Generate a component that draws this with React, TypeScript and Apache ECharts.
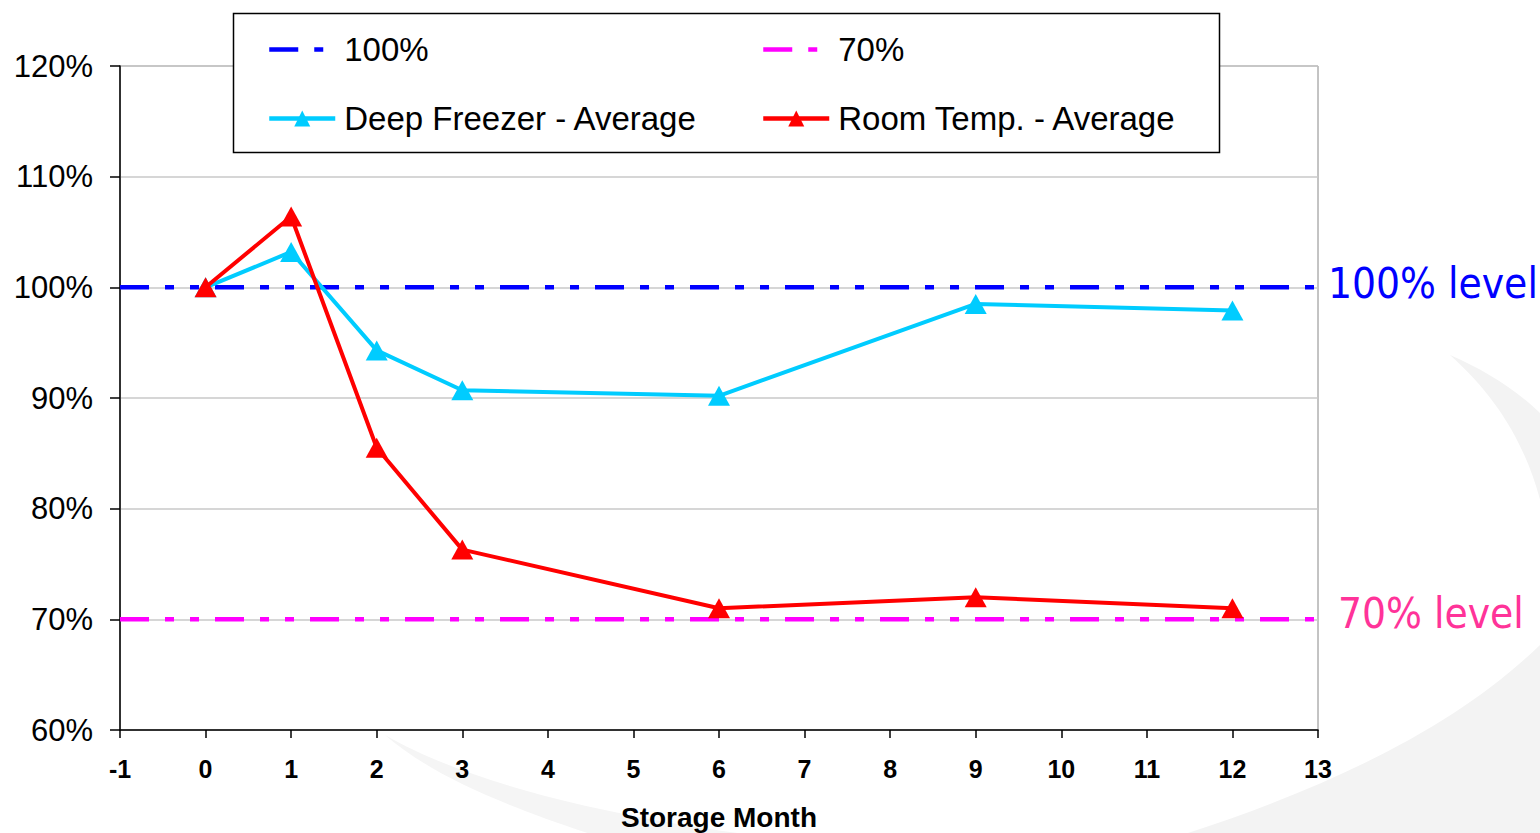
import React, { useEffect, useRef } from "react";
import * as echarts from "echarts";

// ---- data ----
const months = [0, 1, 2, 3, 6, 9, 12];
const freezerAvg = [100, 103.2, 94.3, 90.7, 90.2, 98.5, 97.9];
const roomAvg = [100, 106.4, 85.5, 76.3, 71.0, 72.0, 71.0];
const xRange = [-1, 13];
const level100 = [100, 100];
const level70 = [70, 70];
const yMin = 60;
const yMax = 120;
const yStep = 10;

const SWOOSH1 =
  "M1450,355 C1485,370 1520,392 1545,418 L1545,520 C1530,450 1500,400 1450,355 Z";
const SWOOSH3 =
  "M1545,640 C1460,725 1330,790 1150,845 L1545,845 Z";
const SWOOSH2 =
  "M385,735 C480,790 660,832 900,850 L640,850 C520,812 440,782 385,735 Z";

export default function App() {
  const ref = useRef<HTMLDivElement>(null);
  useEffect(() => {
    if (!ref.current) return;
    try {
      echarts.graphic.registerShape("swoosh1", echarts.graphic.extendPath(SWOOSH1, {}) as any);
      echarts.graphic.registerShape("swoosh2", echarts.graphic.extendPath(SWOOSH2, {}) as any);
      echarts.graphic.registerShape("swoosh3", echarts.graphic.extendPath(SWOOSH3, {}) as any);
    } catch (e) {}
    const chart = echarts.init(ref.current, null, { renderer: "svg" });
    const dash = [29, 16, 9, 16, 9, 16];
    const pairs = (xs: number[], ys: number[]) => xs.map((x, i) => [x, ys[i]]);
    const legendText = {
      fontFamily: "Liberation Sans, Arial, sans-serif",
      fontSize: 33,
      color: "#000",
      padding: [0, 0, 0, 4],
    };
    const option: any = {
      animation: false,
      backgroundColor: "#ffffff",
      grid: {
        left: 120,
        right: 222,
        top: 66,
        bottom: 103,
        outerBoundsMode: "none",
        containLabel: false,
        show: true,
        borderColor: "#888888",
        borderWidth: 1,
        backgroundColor: "#ffffff",
      },
      xAxis: {
        type: "value",
        min: xRange[0],
        max: xRange[1],
        interval: 1,
        name: "Storage Month",
        nameLocation: "middle",
        nameGap: 73,
        nameTextStyle: {
          fontFamily: "Liberation Sans, Arial, sans-serif",
          fontWeight: "bold",
          fontSize: 28,
          color: "#000",
        },
        axisLine: { show: true, onZero: false, lineStyle: { color: "#000", width: 1.5 } },
        axisTick: { show: true, inside: false, length: 8, lineStyle: { color: "#000", width: 1.5 } },
        axisLabel: {
          margin: 26,
          fontFamily: "Liberation Sans, Arial, sans-serif",
          fontWeight: "bold",
          fontSize: 25,
          color: "#000",
        },
        splitLine: { show: false },
      },
      yAxis: {
        type: "value",
        min: yMin,
        max: yMax,
        interval: yStep,
        axisLine: { show: true, onZero: false, lineStyle: { color: "#000", width: 1.5 } },
        axisTick: { show: true, inside: false, length: 10, lineStyle: { color: "#000", width: 1.5 } },
        axisLabel: {
          margin: 27,
          formatter: "{value}%",
          fontFamily: "Liberation Sans, Arial, sans-serif",
          fontSize: 31,
          color: "#000",
        },
        splitLine: { show: true, lineStyle: { color: "#c8c8c8", width: 1.5 } },
      },
      legend: [
        {
          orient: "vertical",
          left: 267,
          top: 33,
          padding: 0,
          itemGap: 36,
          itemWidth: 66,
          itemHeight: 20,
          z: 10,
          lineStyle: { width: 4.5 },
          data: [
            { name: "100%", itemStyle: { opacity: 0 } },
            { name: "Deep Freezer - Average" },
          ],
          textStyle: legendText,
        },
        {
          orient: "vertical",
          left: 761,
          top: 33,
          padding: 0,
          itemGap: 36,
          itemWidth: 66,
          itemHeight: 20,
          z: 10,
          lineStyle: { width: 4.5 },
          data: [
            { name: "70%", itemStyle: { opacity: 0 } },
            { name: "Room Temp. - Average" },
          ],
          textStyle: legendText,
        },
      ],
      graphic: [
        {
          type: "swoosh1",
          z: -10,
          silent: true,
          style: { fill: "#f3f3f3", stroke: "none" },
        },
        {
          type: "swoosh3",
          z: -10,
          silent: true,
          style: { fill: "#f3f3f3", stroke: "none" },
        },
        {
          type: "swoosh2",
          z: -10,
          silent: true,
          style: { fill: "#f5f5f5", stroke: "none" },
        },
        {
          type: "rect",
          z: 5,
          shape: { x: 233.5, y: 13.5, width: 986, height: 139 },
          style: { fill: "#ffffff", stroke: "#000000", lineWidth: 1.5 },
        },
        {
          type: "text",
          z: 5,
          left: 1328,
          top: 262,
          style: {
            text: "100% level",
            fill: "#0000ff",
            fontSize: 42,
            fontFamily: "DejaVu Sans Condensed, DejaVu Sans, sans-serif",
          },
        },
        {
          type: "text",
          z: 5,
          left: 1338,
          top: 592,
          style: {
            text: "70% level",
            fill: "#ff3399",
            fontSize: 42,
            fontFamily: "DejaVu Sans Condensed, DejaVu Sans, sans-serif",
          },
        },
      ],
      series: [
        {
          name: "100%",
          type: "line",
          data: pairs(xRange, level100),
          symbol: "none",
          z: 2,
          itemStyle: { color: "#0000ff" },
          lineStyle: { color: "#0000ff", width: 4.5, type: dash },
        },
        {
          name: "70%",
          type: "line",
          data: pairs(xRange, level70),
          symbol: "none",
          z: 2,
          itemStyle: { color: "#ff00ff" },
          lineStyle: { color: "#ff00ff", width: 4.5, type: dash },
        },
        {
          name: "Deep Freezer - Average",
          type: "line",
          data: pairs(months, freezerAvg),
          symbol: "triangle",
          symbolSize: [22, 20],
          z: 3,
          itemStyle: { color: "#00ccff" },
          lineStyle: { color: "#00ccff", width: 4 },
        },
        {
          name: "Room Temp. - Average",
          type: "line",
          data: pairs(months, roomAvg),
          symbol: "triangle",
          symbolSize: [22, 20],
          z: 4,
          itemStyle: { color: "#ff0000" },
          lineStyle: { color: "#ff0000", width: 4 },
        },
      ],
    };
    chart.setOption(option);
    return () => chart.dispose();
  }, []);
  return (
    <div
      ref={ref}
      style={{ width: 1540, height: 833, position: "absolute", left: 0, top: 0 }}
    />
  );
}
